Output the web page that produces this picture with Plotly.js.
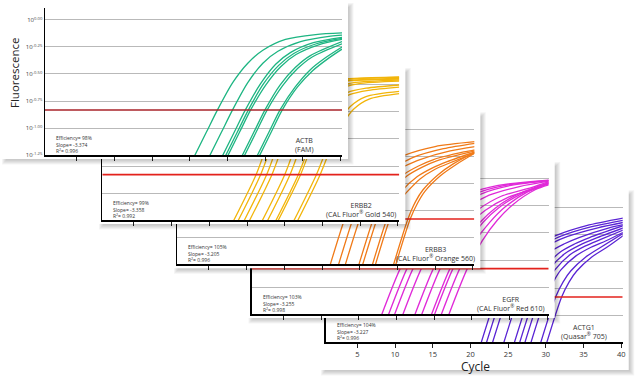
<!DOCTYPE html>
<html><head><meta charset="utf-8">
<script src="https://cdn.plot.ly/plotly-3.0.1.min.js"></script>
<style>html,body{margin:0;padding:0;background:#fff}#chart{width:640px;height:383px}</style>
</head><body><div id="chart"></div>
<script>
// ---------------- data ----------------
const geneNames = ['ACTB', 'ERBB2', 'ERBB3', 'EGFR', 'ACTG1'];
const dyeNames = ['(FAM)', '(CAL Fluor<sup>®</sup> Gold 540)', '(CAL Fluor<sup>®</sup> Orange 560)', '(CAL Fluor<sup>®</sup> Red 610)', '(Quasar<sup>®</sup> 705)'];
const efficiencies = ['98%', '99%', '105%', '103%', '104%'];
const slopes = ['-3.374', '-3.358', '-3.205', '-3.255', '-3.227'];
const rSquared = ['0.996', '0.992', '0.996', '0.998', '0.996'];
const thresholds = [-0.833, -0.83, -0.83, -0.83, -0.83]; // log10 fluorescence
const cycleRange = [0.8, 40.2];
const logRange = [-1.25, 0.111];
const cycleTicks = [5, 10, 15, 20, 25, 30, 35, 40];
const logTicks = [-1.25, -1.0, -0.75, -0.5, -0.25, 0.0];
const logTickText = ['10<sup>-1.25</sup>', '10<sup>-1.00</sup>', '10<sup>-0.75</sup>', '10<sup>-0.50</sup>', '10<sup>-0.25</sup>', '10<sup>0.00</sup>'];

const actbCycles = [
  [20.2, 22.2, 23.7, 25.7, 27.7, 29.7, 32.7, 36.7, 40.2],
  [22.2, 24.2, 25.7, 27.7, 29.7, 31.7, 34.7, 38.7, 40.2],
  [23.9, 25.9, 27.4, 29.4, 31.4, 33.4, 36.4, 40.2],
  [24.3, 26.3, 27.8, 29.8, 31.8, 33.8, 36.8, 40.2],
  [24.6, 26.6, 28.1, 30.1, 32.1, 34.1, 37.1, 40.2],
  [26.5, 28.5, 30.0, 32.0, 34.0, 36.0, 40.2],
  [26.8, 28.8, 30.3, 32.3, 34.3, 36.3, 40.2],
  [28.5, 30.5, 32.0, 34.0, 36.0, 38.0, 40.2],
  [28.8, 30.8, 32.3, 34.3, 36.3, 38.3, 40.2]
];
const actbLog = [
  [-1.32, -1.04, -0.83, -0.58, -0.40, -0.28, -0.18, -0.135, -0.12],
  [-1.32, -1.04, -0.83, -0.58, -0.40, -0.29, -0.20, -0.15, -0.14],
  [-1.32, -1.04, -0.83, -0.59, -0.41, -0.30, -0.21, -0.16],
  [-1.32, -1.04, -0.83, -0.59, -0.42, -0.31, -0.22, -0.17],
  [-1.32, -1.04, -0.83, -0.60, -0.43, -0.32, -0.23, -0.18],
  [-1.32, -1.04, -0.83, -0.60, -0.44, -0.33, -0.20],
  [-1.32, -1.04, -0.83, -0.61, -0.45, -0.34, -0.22],
  [-1.32, -1.04, -0.83, -0.62, -0.46, -0.35, -0.25],
  [-1.32, -1.04, -0.83, -0.62, -0.47, -0.36, -0.27]
];

const erbb2Cycles = [
  [17.9, 21.2, 22.7, 24.2, 25.7, 27.7, 30.2, 40.2],
  [18.5, 21.8, 23.3, 24.8, 26.3, 28.3, 30.8, 40.2],
  [19.3, 22.6, 24.1, 25.6, 27.1, 29.1, 31.6, 40.2],
  [20.0, 23.3, 24.8, 26.3, 27.8, 29.8, 32.3, 40.2],
  [21.7, 25.0, 26.5, 28.0, 29.5, 31.5, 34.0, 40.2],
  [22.4, 25.7, 27.2, 28.7, 30.2, 32.2, 34.7, 40.2],
  [23.5, 26.8, 28.3, 29.8, 31.3, 33.3, 35.8, 40.2],
  [23.8, 27.1, 28.6, 30.1, 31.6, 33.6, 36.1, 40.2],
  [25.9, 29.2, 30.7, 32.2, 33.7, 35.7, 40.2],
  [26.4, 29.7, 31.2, 32.7, 34.2, 36.2, 40.2]
];
const erbb2Log = [
  [-1.30, -0.83, -0.55, -0.30, -0.12, -0.01, 0.04, 0.075],
  [-1.30, -0.83, -0.55, -0.30, -0.12, -0.01, 0.04, 0.07],
  [-1.30, -0.83, -0.55, -0.30, -0.12, -0.02, 0.03, 0.06],
  [-1.30, -0.83, -0.55, -0.30, -0.12, -0.02, 0.03, 0.055],
  [-1.30, -0.83, -0.55, -0.30, -0.13, -0.03, 0.02, 0.045],
  [-1.30, -0.83, -0.55, -0.30, -0.13, -0.04, 0.01, 0.035],
  [-1.30, -0.83, -0.56, -0.32, -0.16, -0.07, -0.03, 0.0],
  [-1.30, -0.83, -0.56, -0.33, -0.17, -0.09, -0.05, -0.02],
  [-1.30, -0.83, -0.57, -0.35, -0.20, -0.11, -0.06],
  [-1.30, -0.83, -0.57, -0.36, -0.22, -0.13, -0.08]
];

const erbb3Cycles = [
  [20.8, 23.0, 24.0, 25.0, 27.0, 29.0, 31.0, 35.0, 40.3],
  [21.9, 24.1, 25.1, 26.1, 28.1, 30.1, 32.1, 36.1, 40.3],
  [22.8, 25.0, 26.0, 27.0, 29.0, 31.0, 33.0, 37.0, 40.3],
  [24.6, 26.8, 27.8, 28.8, 30.8, 32.8, 34.8, 38.8, 40.3],
  [25.1, 27.3, 28.3, 29.3, 31.3, 33.3, 35.3, 40.3],
  [26.4, 28.6, 29.6, 30.6, 32.6, 34.6, 36.6, 40.3],
  [26.8, 29.0, 30.0, 31.0, 33.0, 35.0, 37.0, 40.3],
  [29.2, 31.4, 32.4, 33.4, 35.4, 37.4, 40.3],
  [29.5, 31.7, 32.7, 33.7, 35.7, 37.7, 40.3]
];
const erbb3Log = [
  [-1.32, -0.83, -0.66, -0.55, -0.41, -0.32, -0.24, -0.16, -0.115],
  [-1.32, -0.83, -0.66, -0.55, -0.41, -0.33, -0.26, -0.18, -0.13],
  [-1.32, -0.83, -0.66, -0.55, -0.41, -0.34, -0.28, -0.20, -0.16],
  [-1.32, -0.83, -0.66, -0.55, -0.42, -0.34, -0.28, -0.21, -0.19],
  [-1.32, -0.83, -0.66, -0.56, -0.43, -0.35, -0.29, -0.20],
  [-1.32, -0.83, -0.67, -0.57, -0.44, -0.36, -0.30, -0.21],
  [-1.32, -0.83, -0.68, -0.60, -0.46, -0.37, -0.31, -0.22],
  [-1.32, -0.83, -0.67, -0.56, -0.42, -0.32, -0.21],
  [-1.32, -0.83, -0.68, -0.57, -0.43, -0.33, -0.22]
];

const egfrCycles = [
  [17.7, 20.5, 22.5, 24.5, 26.5, 29.5, 33.5, 40.2],
  [18.6, 21.4, 23.4, 25.4, 27.4, 30.4, 34.4, 40.2],
  [19.4, 22.2, 24.2, 26.2, 28.2, 31.2, 35.2, 40.2],
  [20.5, 23.3, 25.3, 27.3, 29.3, 32.3, 36.3, 40.2],
  [22.1, 24.9, 26.9, 28.9, 30.9, 33.9, 37.9, 40.2],
  [23.0, 25.8, 27.8, 29.8, 31.8, 34.8, 38.8, 40.2],
  [24.3, 27.1, 29.1, 31.1, 33.1, 36.1, 40.2],
  [24.7, 27.5, 29.5, 31.5, 33.5, 36.5, 40.2],
  [25.6, 28.4, 30.4, 32.4, 34.4, 37.4, 40.2],
  [26.6, 29.4, 31.4, 33.4, 35.4, 38.4, 40.2]
];
const egfrLog = [
  [-1.32, -0.83, -0.58, -0.40, -0.27, -0.14, -0.06, -0.01],
  [-1.32, -0.83, -0.58, -0.40, -0.27, -0.14, -0.06, -0.012],
  [-1.32, -0.83, -0.58, -0.40, -0.27, -0.14, -0.06, -0.015],
  [-1.32, -0.83, -0.58, -0.40, -0.27, -0.15, -0.07, -0.02],
  [-1.32, -0.83, -0.58, -0.40, -0.28, -0.16, -0.08, -0.025],
  [-1.32, -0.83, -0.58, -0.41, -0.29, -0.17, -0.08, -0.03],
  [-1.32, -0.83, -0.58, -0.40, -0.27, -0.14, -0.035],
  [-1.32, -0.83, -0.58, -0.40, -0.27, -0.14, -0.04],
  [-1.32, -0.83, -0.58, -0.40, -0.26, -0.12, -0.045],
  [-1.32, -0.83, -0.57, -0.38, -0.24, -0.10, -0.055]
];

const actg1Cycles = [
  [21.0, 23.4, 24.4, 25.4, 27.4, 29.4, 31.4, 35.4, 40.3],
  [21.7, 24.1, 25.1, 26.1, 28.1, 30.1, 32.1, 36.1, 40.3],
  [22.5, 24.9, 25.9, 26.9, 28.9, 30.9, 32.9, 36.9, 40.3],
  [24.0, 26.4, 27.4, 28.4, 30.4, 32.4, 34.4, 38.4, 40.3],
  [25.4, 27.8, 28.8, 29.8, 31.8, 33.8, 35.8, 40.3],
  [26.1, 28.5, 29.5, 30.5, 32.5, 34.5, 36.5, 40.3],
  [26.8, 29.2, 30.2, 31.2, 33.2, 35.2, 37.2, 40.3],
  [27.6, 30.0, 31.0, 32.0, 34.0, 36.0, 38.0, 40.3],
  [28.9, 31.3, 32.3, 33.3, 35.3, 37.3, 40.3],
  [29.7, 32.1, 33.1, 34.1, 36.1, 38.1, 40.3]
];
const actg1Log = [
  [-1.35, -0.83, -0.68, -0.57, -0.41, -0.33, -0.26, -0.17, -0.10],
  [-1.35, -0.83, -0.68, -0.57, -0.41, -0.33, -0.265, -0.18, -0.12],
  [-1.35, -0.83, -0.68, -0.57, -0.41, -0.33, -0.27, -0.19, -0.14],
  [-1.35, -0.83, -0.68, -0.57, -0.42, -0.34, -0.28, -0.19, -0.16],
  [-1.35, -0.83, -0.68, -0.57, -0.42, -0.34, -0.28, -0.17],
  [-1.35, -0.83, -0.68, -0.57, -0.43, -0.35, -0.29, -0.19],
  [-1.35, -0.83, -0.69, -0.58, -0.44, -0.36, -0.30, -0.21],
  [-1.35, -0.83, -0.69, -0.58, -0.45, -0.37, -0.31, -0.23],
  [-1.35, -0.83, -0.69, -0.59, -0.46, -0.37, -0.24],
  [-1.35, -0.83, -0.69, -0.59, -0.46, -0.37, -0.26]
];

// ---------------- layout / styling ----------------
const W = 640, H = 383, PW = 297, PH = 147;
const FONT = '"Open Sans", "DejaVu Sans", sans-serif';
// panel geometry in px (top panel first): y-axis x position, x-axis y position, panel box
const panelGeo = [
  {ax: 45,    ab: 155,   bgL: 3,     bgB: 159},
  {ax: 102.3, ab: 220,   bgL: 100,   bgB: 224},
  {ax: 177.3, ab: 264.3, bgL: 175,   bgB: 268.3},
  {ax: 251.7, ab: 314,   bgL: 249.5, bgB: 318},
  {ax: 325.7, ab: 342.3, bgL: 322,   bgB: 370}
];
const curveColors = ['#1db582', '#f2b50a', '#f07a18', '#e02ad8', '#5a24d4'];
const thrColors = ['#a8232a', '#e3221c', '#e3221c', '#e3221c', '#e3221c'];
const cyclesByPanel = [actbCycles, erbb2Cycles, erbb3Cycles, egfrCycles, actg1Cycles];
const logByPanel = [actbLog, erbb2Log, erbb3Log, egfrLog, actg1Log];
// subplot numbers: drawn in trace order, later = on top
const dataId = [10, 8, 6, 4, 2];
const bgId = [9, 7, 5, 3, null];

const fx = px => px / W;
const fy = py => 1 - py / H;
const axKey = (l, n) => (n === 1 ? l + 'axis' : l + 'axis' + n);
const axRef = (l, n) => (n === 1 ? l : l + n);

const layout = {
  width: W, height: H,
  margin: {l: 0, r: 0, t: 0, b: 0},
  paper_bgcolor: '#ffffff', plot_bgcolor: '#ffffff',
  showlegend: false,
  font: {family: FONT, color: '#333'},
  shapes: [], annotations: []
};
const hiddenAx = {showgrid: false, zeroline: false, showline: false, showticklabels: false, ticks: '', fixedrange: true, range: [0, 1]};
const placeholder = n => ({type: 'scatter', mode: 'none', x: [null], y: [null], xaxis: axRef('x', n), yaxis: axRef('y', n), hoverinfo: 'skip', showlegend: false});

// dummy full-paper subplot (first, lowest) so every panel background overlaps something below it
layout.xaxis = Object.assign({}, hiddenAx, {domain: [0, 1], anchor: 'y'});
layout.yaxis = Object.assign({}, hiddenAx, {domain: [0, 1], anchor: 'x'});
const traces = [placeholder(1)];

for (let p = 4; p >= 0; p--) {   // bottom panel first, top panel last
  const g = panelGeo[p];
  const bgR = g.ax + 303, bgT = g.ab - 152;
  if (bgId[p]) {
    const b = bgId[p];
    layout[axKey('x', b)] = Object.assign({}, hiddenAx, {domain: [fx(g.bgL), fx(bgR)], anchor: axRef('y', b)});
    layout[axKey('y', b)] = Object.assign({}, hiddenAx, {domain: [fy(g.bgB), fy(bgT)], anchor: axRef('x', b)});
    traces.push(placeholder(b));
  }
  const n = dataId[p];
  layout[axKey('x', n)] = {
    domain: [fx(g.ax), fx(g.ax + PW)], anchor: axRef('y', n), range: cycleRange,
    showgrid: false, zeroline: false, showline: true, linecolor: '#000', linewidth: 1.5,
    ticks: 'outside', ticklen: 4, tickwidth: 1, tickcolor: '#222', tickvals: cycleTicks,
    showticklabels: p === 4, tickfont: {size: 7.5, color: '#333', family: FONT}, fixedrange: true
  };
  layout[axKey('y', n)] = {
    domain: [fy(g.ab), fy(g.ab - PH)], anchor: axRef('x', n), range: logRange,
    showgrid: true, gridcolor: '#b9b9b9', gridwidth: 1, zeroline: false,
    showline: true, linecolor: '#000', linewidth: 1.5, ticks: '',
    tickvals: logTicks, ticktext: logTickText, showticklabels: p === 0,
    tickfont: {size: 6, color: '#444', family: FONT}, fixedrange: true
  };
  const cyc = cyclesByPanel[p], lf = logByPanel[p];
  for (let k = 0; k < cyc.length; k++) {
    traces.push({
      type: 'scatter', mode: 'lines', x: cyc[k], y: lf[k],
      xaxis: axRef('x', n), yaxis: axRef('y', n),
      line: {color: curveColors[p], width: 1.3, shape: 'spline', smoothing: 0.8},
      hoverinfo: 'skip'
    });
  }
  traces.push({
    type: 'scatter', mode: 'lines', x: cycleRange, y: [thresholds[p], thresholds[p]],
    xaxis: axRef('x', n), yaxis: axRef('y', n),
    line: {color: thrColors[p], width: 1.6}, hoverinfo: 'skip'
  });

  // soft drop shadow: L-shaped bands right of and below the panel box
  for (let e = 0; e < 5; e++) {
    const oL = g.bgL + 3 - e, oT = bgT + 4 - e;
    const oR = bgR + 1.5 + e, oB = g.bgB + 1.5 + e;
    const pts = [[bgR, oT], [oR, oT], [oR, oB], [oL, oB], [oL, g.bgB], [bgR, g.bgB]];
    const path = 'M' + pts.map(q => fx(q[0]) + ',' + fy(q[1])).join(' L') + ' Z';
    layout.shapes.push({type: 'path', path: path, xref: 'paper', yref: 'paper', layer: 'above',
      fillcolor: 'rgba(0,0,0,0.045)', line: {width: 0}});
  }

  layout.annotations.push({
    xref: 'paper', yref: 'paper', x: fx(g.ax + 9), y: fy(g.ab - 22), xanchor: 'left', yanchor: 'top',
    align: 'left', showarrow: false,
    text: 'Efficiency= ' + efficiencies[p] + '<br>Slope= ' + slopes[p] + '<br>R<sup>2</sup>= ' + rSquared[p],
    font: {size: 5, color: '#333', family: FONT}
  });
  layout.annotations.push({
    xref: 'paper', yref: 'paper', x: fx(g.ax + 258.5), y: fy(g.ab - 10), xanchor: 'center', yanchor: 'middle',
    align: 'center', showarrow: false, text: geneNames[p] + '<br>' + dyeNames[p],
    font: {size: 7, color: '#333', family: FONT}
  });
}
layout.annotations.push({
  xref: 'paper', yref: 'paper', x: fx(15), y: fy(73), textangle: -90, showarrow: false,
  text: 'Fluorescence', font: {size: 11.5, color: '#222', family: FONT}, xanchor: 'center', yanchor: 'middle'
});
layout.annotations.push({
  xref: 'paper', yref: 'paper', x: fx(475), y: fy(366), showarrow: false,
  text: 'Cycle', font: {size: 12, color: '#222', family: FONT}, xanchor: 'center', yanchor: 'middle'
});

Plotly.newPlot('chart', traces, layout, {staticPlot: true, displayModeBar: false});
</script>
</body></html>
